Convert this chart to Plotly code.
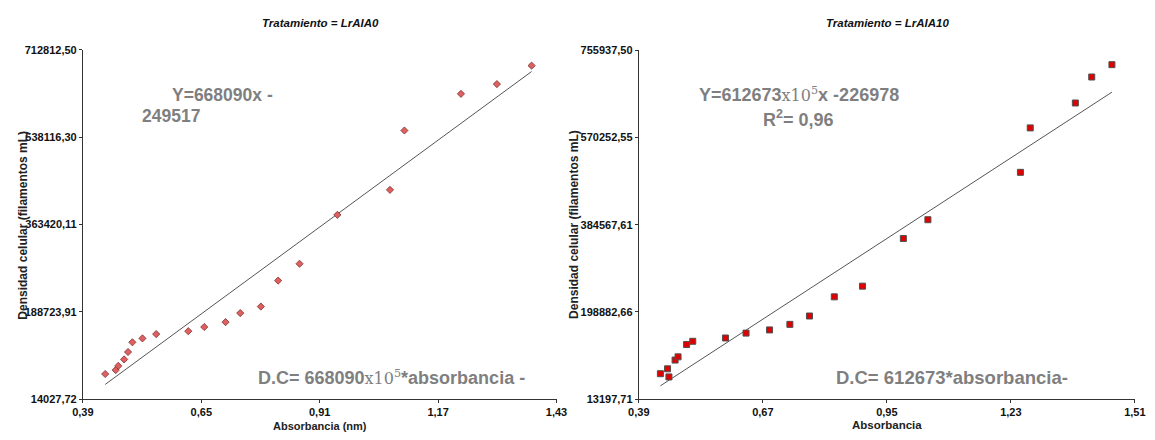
import plotly.graph_objects as go

# ---------------- data ----------------
lr0_abs = [0.4389, 0.4620, 0.4676, 0.4805, 0.4891, 0.4986, 0.5208, 0.5509, 0.6214, 0.6565,
           0.7032, 0.7355, 0.7808, 0.8187, 0.8657, 0.9488, 1.0643, 1.0960, 1.2202, 1.2991, 1.3753]
lr0_dens = [64593, 72372, 80735, 93765, 108545, 127993, 135772, 144330, 150164, 158528,
            168252, 186337, 199368, 251294, 284939, 382762, 432744, 551376, 624695, 644143, 681094]

lr10_abs = [0.4387, 0.4549, 0.4580, 0.4719, 0.4786, 0.4979, 0.5118, 0.5856, 0.6321, 0.6852,
            0.7311, 0.7753, 0.8314, 0.8950, 0.9873, 1.0427, 1.2516, 1.2737, 1.3756, 1.4126, 1.4582]
lr10_dens = [67610, 77955, 60783, 96575, 103402, 129677, 136505, 143539, 153883, 160711,
             172503, 190296, 231053, 253811, 355187, 395118, 495872, 590421, 643385, 698625, 724900]

# regression coefficients shown on the chart
lr0_slope, lr0_intercept = 668090, -249517
lr10_slope, lr10_intercept = 612673, -226978

# axis ticks
lr0_xticks = [0.39, 0.65, 0.91, 1.17, 1.43]
lr0_yticks = [14027.72, 188723.91, 363420.11, 538116.30, 712812.50]
lr10_xticks = [0.39, 0.67, 0.95, 1.23, 1.51]
lr10_yticks = [13197.71, 198882.66, 384567.61, 570252.55, 755937.50]

titles = ["Tratamiento = LrAIA0", "Tratamiento = LrAIA10"]
x_titles = ["Absorbancia (nm)", "Absorbancia"]
y_title = "Densidad celular (filamentos mL)"

W, H = 1155, 440
def px(x):
    return x / W
def py(y):
    return 1 - y / H

def fmt(v):
    return f"{v:.2f}".replace(".", ",")

NARROW = "Liberation Sans Narrow, Arial Narrow, Liberation Sans, Arial"
GREY = "#7f7f7f"

fig = go.Figure()

# left fit line
x0 = [min(lr0_abs), max(lr0_abs)]
fig.add_trace(go.Scatter(x=x0, y=[lr0_slope * v + lr0_intercept for v in x0], mode="lines",
                         line=dict(color="#555555", width=1), xaxis="x", yaxis="y",
                         showlegend=False, hoverinfo="skip"))
fig.add_trace(go.Scatter(x=lr0_abs, y=lr0_dens, mode="markers",
                         marker=dict(symbol="diamond", size=5.5, color="#e06060",
                                     line=dict(color="#7a3030", width=0.8)),
                         xaxis="x", yaxis="y", showlegend=False))

# right fit line
x1 = [min(lr10_abs), max(lr10_abs)]
fig.add_trace(go.Scatter(x=x1, y=[lr10_slope * v + lr10_intercept for v in x1], mode="lines",
                         line=dict(color="#555555", width=1), xaxis="x2", yaxis="y2",
                         showlegend=False, hoverinfo="skip"))
fig.add_trace(go.Scatter(x=lr10_abs, y=lr10_dens, mode="markers",
                         marker=dict(symbol="square", size=6, color="#e00000",
                                     line=dict(color="#505050", width=1)),
                         xaxis="x2", yaxis="y2", showlegend=False))

axis_common = dict(showline=True, linecolor="#333333", linewidth=1, showgrid=False,
                   zeroline=False, ticks="outside", ticklen=3, tickcolor="#333333",
                   tickfont=dict(family=NARROW, size=11, color="#111111", weight="bold"))

fig.update_layout(
    width=W, height=H,
    margin=dict(l=0, r=0, t=0, b=0),
    paper_bgcolor="white", plot_bgcolor="white",
    xaxis=dict(domain=[px(73.3), px(556.1)], range=[lr0_xticks[0], lr0_xticks[-1]],
               tickvals=lr0_xticks, ticktext=[fmt(v) for v in lr0_xticks], anchor="y",
               **axis_common),
    yaxis=dict(domain=[py(404.3), py(45)], range=[lr0_yticks[0], lr0_yticks[-1]],
               tickvals=lr0_yticks, ticktext=[fmt(v) for v in lr0_yticks], anchor="x",
               **axis_common),
    xaxis2=dict(domain=[px(640), px(1145.7)], range=[lr10_xticks[0], lr10_xticks[-1]],
                tickvals=lr10_xticks, ticktext=[fmt(v) for v in lr10_xticks], anchor="y2",
                **axis_common),
    yaxis2=dict(domain=[py(404.3), py(45.3)], range=[lr10_yticks[0], lr10_yticks[-1]],
                tickvals=lr10_yticks, ticktext=[fmt(v) for v in lr10_yticks], anchor="x2",
                **axis_common),
)

ann = []
# titles
for t, cx in zip(titles, [316, 894]):
    ann.append(dict(text=f"<b><i>{t}</i></b>", x=px(cx), y=py(17), xref="paper", yref="paper",
                    xanchor="center", yanchor="middle", showarrow=False,
                    font=dict(family=NARROW, size=11.5, color="#111111")))
# x titles
ann.append(dict(text=f"<b>{x_titles[0]}</b>", x=px(314.5), y=py(432), xref="paper", yref="paper",
                xanchor="center", yanchor="middle", showarrow=False,
                font=dict(family=NARROW, size=11, color="#222222")))
ann.append(dict(text=f"<b>{x_titles[1]}</b>", x=px(893.5), y=py(431), xref="paper", yref="paper",
                xanchor="center", yanchor="middle", showarrow=False,
                font=dict(family=NARROW, size=11.5, color="#222222")))
# y titles
for cx in [12, 574]:
    ann.append(dict(text=f"<b>{y_title}</b>", x=px(cx), y=py(225), xref="paper", yref="paper",
                    xanchor="center", yanchor="middle", showarrow=False, textangle=-90,
                    font=dict(family="Liberation Sans, Arial", size=12, color="#222222")))

eq_font = dict(family="Liberation Sans, Arial", size=18, color=GREY)
SERIF = ("<span style='font-family:DejaVu Serif;font-weight:normal;font-size:16px'>"
         "x10<sup>5</sup></span>")
# left equations
ann.append(dict(text="<b>Y=668090x -</b>", x=px(162), y=py(91), xref="paper", yref="paper",
                xanchor="left", yanchor="middle", showarrow=False,
                font=dict(family="Liberation Sans, Arial", size=17.5, color=GREY)))
ann.append(dict(text="<b>249517</b>", x=px(132), y=py(113), xref="paper", yref="paper",
                xanchor="left", yanchor="middle", showarrow=False,
                font=dict(family="Liberation Sans, Arial", size=17.5, color=GREY)))
ann.append(dict(text=f"<b>D.C= 668090</b>{SERIF}<b>*absorbancia -</b>", x=px(250), y=py(382),
                xref="paper", yref="paper", xanchor="left", yanchor="middle",
                showarrow=False, font=eq_font))
# right equations
ann.append(dict(text=f"<b>Y=612673</b>{SERIF}<b>x -226978</b>", x=px(803), y=py(91),
                xref="paper", yref="paper", xanchor="center", yanchor="middle",
                showarrow=False, font=eq_font))
ann.append(dict(text="<b>R<sup>2</sup>= 0,96</b>", x=px(803), y=py(116), xref="paper", yref="paper",
                xanchor="center", yanchor="middle", showarrow=False, font=eq_font))
ann.append(dict(text="<b>D.C= 612673*absorbancia-</b>", x=px(838.5), y=py(382),
                xref="paper", yref="paper", xanchor="left", yanchor="middle",
                showarrow=False, font=dict(family="Liberation Sans, Arial", size=18.5, color=GREY)))

fig.update_layout(annotations=ann)
fig.write_html("out.html")
